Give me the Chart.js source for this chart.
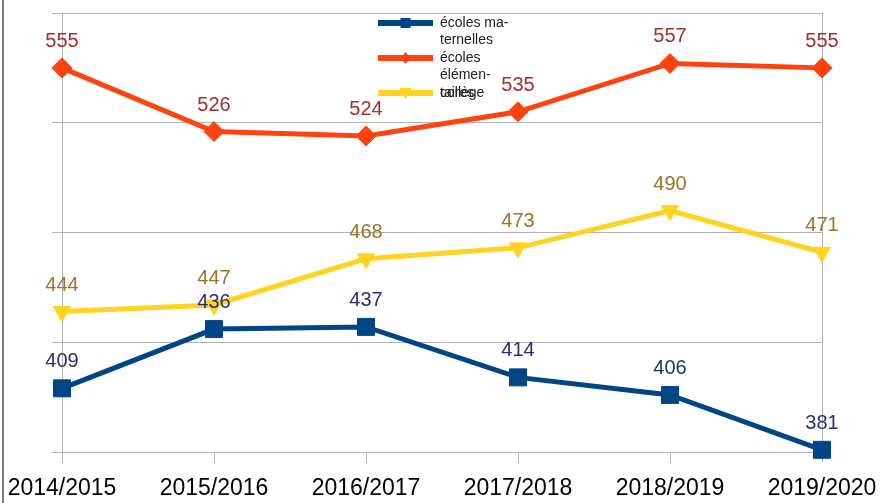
<!DOCTYPE html>
<html>
<head>
<meta charset="utf-8">
<script src="https://cdn.jsdelivr.net/npm/chart.js@4"></script>
<style>
  html, body { margin: 0; padding: 0; background: #fff; }
  #wrap { width: 881px; height: 503px; position: relative; }
</style>
</head>
<body>
<div id="wrap"><canvas id="chart"></canvas></div>
<script>
// chart data
const years = ['2014/2015', '2015/2016', '2016/2017', '2017/2018', '2018/2019', '2019/2020'];
const maternelles = [409, 436, 437, 414, 406, 381];
const elementaires = [555, 526, 524, 535, 557, 555];
const college = [444, 447, 468, 473, 490, 471];
const seriesNames = [['écoles ma-', 'ternelles'], ['écoles', 'élémen-', 'taires'], ['collège']];

const gridColor = '#b3b3b3';
const lineColors = ['#004586', '#ff420e', '#ffd320'];
const labelColors = ['#2b2f72', '#a0302c', '#9c7427'];

// value labels above each point
const valueLabels = {
    id: 'valueLabels',
    afterDatasetsDraw(chart) {
        const ctx = chart.ctx;
        ctx.save();
        ctx.font = '20px "Liberation Sans", Arial, sans-serif';
        ctx.textAlign = 'center';
        ctx.textBaseline = 'alphabetic';
        chart.data.datasets.forEach((ds, i) => {
            chart.getDatasetMeta(i).data.forEach((pt, j) => {
                ctx.fillStyle = labelColors[i];
                ctx.fillText(ds.data[j], pt.x, pt.y - 21);
            });
        });
        ctx.restore();
    }
};

// frame lines and the odd overlapping legend
const extras = {
    id: 'extras',
    beforeDatasetsDraw(chart) {
        const ctx = chart.ctx;
        const a = chart.chartArea;
        ctx.save();
        ctx.strokeStyle = gridColor;
        ctx.lineWidth = 1;
        ctx.beginPath();
        ctx.moveTo(Math.round(a.right) + 0.5, a.top);
        ctx.lineTo(Math.round(a.right) + 0.5, a.bottom);
        ctx.stroke();
        ctx.strokeStyle = '#7a7a7a';
        ctx.lineWidth = 2;
        ctx.beginPath();
        ctx.moveTo(3, 0);
        ctx.lineTo(3, chart.height);
        ctx.stroke();
        ctx.restore();
    },
    afterDraw(chart) {
        const ctx = chart.ctx;
        ctx.save();
        const symX1 = 378, symX2 = 433, textX = 440;
        const rowY = [23, 58, 93];
        const lineH = 17.5;
        ctx.font = '14px "Liberation Sans", Arial, sans-serif';
        ctx.textBaseline = 'middle';
        ctx.textAlign = 'left';
        seriesNames.forEach((lines, i) => {
            const y = rowY[i];
            ctx.strokeStyle = lineColors[i];
            ctx.fillStyle = lineColors[i];
            ctx.lineWidth = 6;
            ctx.beginPath();
            ctx.moveTo(symX1, y);
            ctx.lineTo(symX2, y);
            ctx.stroke();
            const cx = (symX1 + symX2) / 2;
            ctx.beginPath();
            if (i === 0) {
                ctx.rect(cx - 5, y - 5, 10, 10);
            } else if (i === 1) {
                ctx.moveTo(cx, y - 6); ctx.lineTo(cx + 5, y); ctx.lineTo(cx, y + 6); ctx.lineTo(cx - 5, y);
            } else {
                ctx.moveTo(cx - 6, y - 5); ctx.lineTo(cx + 6, y - 5); ctx.lineTo(cx, y + 6);
            }
            ctx.closePath();
            ctx.fill();
            ctx.fillStyle = '#222';
            lines.forEach((t, k) => {
                ctx.fillText(t, textX, y + k * lineH);
            });
        });
        ctx.restore();
    }
};

function makeSet(label, data, i, style, radius, rotation) {
    return {
        label: label,
        data: data,
        borderColor: lineColors[i],
        backgroundColor: lineColors[i],
        pointBackgroundColor: lineColors[i],
        pointBorderColor: lineColors[i],
        pointBorderWidth: 1,
        borderWidth: 5,
        tension: 0,
        pointStyle: style,
        pointRadius: radius,
        pointHoverRadius: radius,
        pointRotation: rotation || 0
    };
}

new Chart(document.getElementById('chart').getContext('2d'), {
    type: 'line',
    data: {
        labels: years,
        datasets: [
            makeSet('écoles maternelles', maternelles, 0, 'rect', 12),
            makeSet('écoles élémentaires', elementaires, 1, 'rectRot', 10),
            makeSet('collège', college, 2, 'triangle', 10, 180)
        ]
    },
    options: {
        responsive: true,
        maintainAspectRatio: false,
        animation: false,
        clip: false,
        layout: { padding: { left: 0, right: 59, top: 10, bottom: 0 } },
        plugins: {
            legend: { display: false },
            title: { display: false },
            tooltip: { enabled: false }
        },
        scales: {
            x: {
                offset: false,
                grid: { display: true, drawOnChartArea: false, color: gridColor, tickLength: 11 },
                border: { display: true, color: gridColor },
                ticks: {
                    color: '#000',
                    font: { family: '"Liberation Sans", Arial, sans-serif', size: 23 },
                    padding: 12,
                    maxRotation: 0,
                    autoSkip: false
                },
                afterFit: function (scale) {
                    scale.height = 51;
                    scale.paddingLeft = 0;
                    scale.paddingRight = 0;
                }
            },
            y: {
                min: 380,
                max: 580,
                grid: { color: gridColor, tickLength: 10 },
                border: { display: true, color: gridColor },
                ticks: { display: false, stepSize: 50 },
                afterFit: function (scale) { scale.width = 62; }
            }
        }
    },
    plugins: [extras, valueLabels]
});
</script>
</body>
</html>
